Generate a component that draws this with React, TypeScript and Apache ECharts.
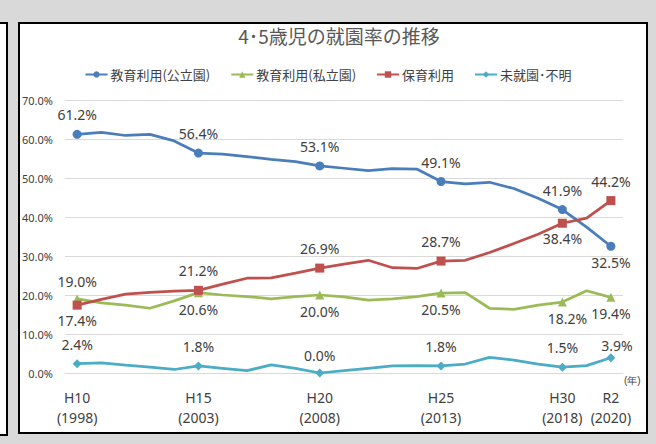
import React, { useEffect, useRef } from "react";
import * as echarts from "echarts";

const years = [
  "1998", "1999", "2000", "2001", "2002", "2003", "2004", "2005", "2006", "2007", "2008", "2009",
  "2010", "2011", "2012", "2013", "2014", "2015", "2016", "2017", "2018", "2019", "2020",
];
const tickLabels = [
  "H10\n(1998)", "", "", "", "", "H15\n(2003)", "", "", "", "", "H20\n(2008)", "",
  "", "", "", "H25\n(2013)", "", "", "", "", "H30\n(2018)", "", "R2\n(2020)",
];
const seriesNames = ["教育利用(公立園)", "教育利用(私立園)", "保育利用", "未就園･不明"];
const publicKinder = [61.2, 61.7, 60.9, 61.2, 59.5, 56.4, 56.1, 55.5, 54.8, 54.2, 53.1, 52.5, 51.9, 52.4, 52.3, 49.1, 48.5, 48.9, 47.3, 44.8, 41.9, 37.4, 32.5];
const privateKinder = [19.0, 18.0, 17.4, 16.6, 18.5, 20.6, 20.0, 19.6, 19.0, 19.6, 20.0, 19.5, 18.7, 19.0, 19.6, 20.5, 20.6, 16.6, 16.3, 17.4, 18.2, 21.1, 19.4];
const nursery = [17.4, 18.9, 20.2, 20.7, 21.0, 21.2, 22.8, 24.3, 24.4, 25.6, 26.9, 27.9, 28.9, 27.0, 26.8, 28.7, 28.9, 30.9, 33.2, 35.6, 38.4, 39.7, 44.2];
const notEnrolled = [2.4, 2.6, 2.0, 1.5, 0.9, 1.8, 1.2, 0.6, 2.1, 1.2, 0.0, 0.6, 1.2, 1.8, 1.9, 1.8, 2.3, 4.0, 3.3, 2.3, 1.5, 1.9, 3.9];
const keyIndices = [0, 5, 10, 15, 20, 22];
const yTicks = [0, 10, 20, 30, 40, 50, 60, 70];

const JP = "'Noto Sans CJK JP', 'Noto Sans', sans-serif";
const NUM = "'Noto Sans', 'Noto Sans CJK JP', sans-serif";

type LabelPos = { position: string; distance?: number; offset?: number[] };

function buildData(values: number[], labelPos: (i: number) => LabelPos) {
  return values.map((v, i) => {
    if (keyIndices.includes(i)) {
      const lp = labelPos(i);
      return {
        value: v,
        label: {
          show: true,
          position: lp.position,
          distance: lp.distance ?? (lp.position === "top" ? 8 : 5),
          offset: lp.offset ?? [0, 0],
        },
      };
    }
    return { value: v, symbol: "none" };
  });
}

export default function App() {
  const ref = useRef<HTMLDivElement>(null);
  useEffect(() => {
    if (!ref.current) return;
    const chart = echarts.init(ref.current, undefined, { renderer: "svg" });
    const labelCommon = {
      fontSize: 14,
      color: "#404040",
      fontFamily: NUM,
      formatter: (p: any) => Number(p.value).toFixed(1) + "%",
    };
    const colors = ["#4A7EBB", "#9BBB59", "#C0504D", "#4BACC6"];
    const symbols = ["circle", "triangle", "rect", "diamond"];
    const sizes = [9, 9, 9, 9];
    const datas = [
      buildData(publicKinder, (i) => (i === 22 ? { position: "bottom", distance: 5 } : { position: "top" })),
      buildData(privateKinder, (i) =>
        i === 0 ? { position: "top", distance: 6 } : i === 20 ? { position: "bottom", offset: [5, 0] } : { position: "bottom" }
      ),
      buildData(nursery, (i) => (i === 0 || i === 20 ? { position: "bottom", distance: 4 } : { position: "top" })),
      buildData(notEnrolled, (i) =>
        i === 22 ? { position: "top", distance: 1, offset: [6, 0] } : { position: "top", distance: i === 10 ? 6 : 8 }
      ),
    ];
    chart.setOption({
      animation: false,
      backgroundColor: "transparent",
      title: {
        text: "4･5歳児の就園率の推移",
        left: 334,
        textAlign: "center",
        top: 21,
        textStyle: { fontSize: 19, fontWeight: "normal", color: "#595959", fontFamily: JP },
      },
      legend: {
        top: 63,
        left: "center",
        itemWidth: 22,
        itemHeight: 8,
        itemGap: 20,
        textStyle: { fontSize: 13, color: "#404040", fontFamily: JP, padding: [0, 0, 0, -2] },
        data: seriesNames,
      },
      grid: { left: 65, right: 33, top: 100, bottom: 71 },
      xAxis: {
        type: "category",
        data: years,
        boundaryGap: true,
        axisLine: { show: true, lineStyle: { color: "#d9d9d9", width: 1 } },
        axisTick: { show: false },
        axisLabel: {
          interval: (idx: number) => tickLabels[idx] !== "",
          formatter: (_v: string, idx: number) => tickLabels[idx],
          fontSize: 14,
          color: "#404040",
          fontFamily: NUM,
          lineHeight: 20,
          margin: 14,
        },
      },
      yAxis: {
        type: "value",
        min: yTicks[0],
        max: yTicks[yTicks.length - 1],
        interval: 10,
        axisLine: { show: false },
        axisTick: { show: false },
        axisLabel: {
          formatter: (v: number) => v.toFixed(1) + "%",
          fontSize: 11,
          color: "#404040",
          fontFamily: NUM,
          margin: 12,
        },
        splitLine: { lineStyle: { color: "#d9d9d9", width: 1 } },
      },
      series: seriesNames.map((name, k) => ({
        name,
        type: "line",
        data: datas[k],
        symbol: symbols[k],
        symbolSize: sizes[k],
        showAllSymbol: true,
        lineStyle: { color: colors[k], width: 2.75 },
        itemStyle: { color: colors[k] },
        label: labelCommon,
        z: 2 + k,
      })),
      graphic: [
        {
          type: "text",
          left: 624,
          top: 375,
          style: { text: "(年)", fontSize: 10, fill: "#404040", font: "10px " + JP },
        },
      ],
    });
    return () => chart.dispose();
  }, []);

  return (
    <div style={{ position: "fixed", left: 0, top: 0, width: 656, height: 444, background: "#d9d9d9", overflow: "hidden" }}>
      <div
        style={{
          position: "absolute", left: -4, top: 22, width: 8, height: 410,
          background: "#fff", border: "2px solid #000", boxSizing: "content-box",
        }}
      />
      <div
        style={{
          position: "absolute", left: 18, top: 22, width: 626, height: 408,
          background: "#fff", border: "2px solid #000", boxSizing: "content-box",
        }}
      />
      <div ref={ref} style={{ position: "absolute", left: 0, top: 0, width: 656, height: 444 }} />
    </div>
  );
}
